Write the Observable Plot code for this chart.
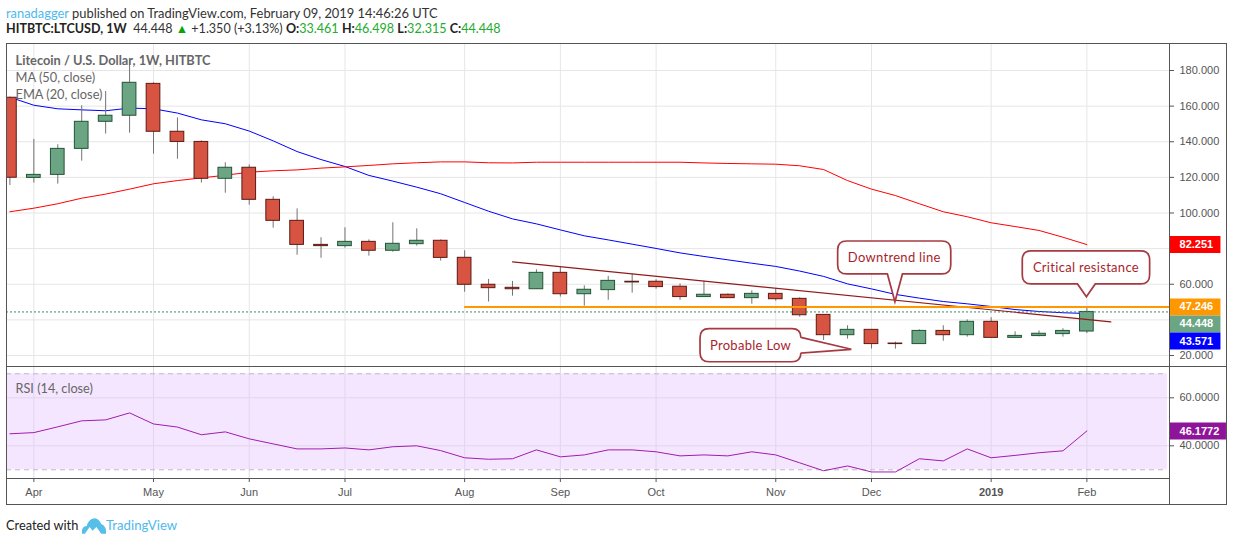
<!DOCTYPE html>
<html>
<head>
<meta charset="utf-8">
<script src="https://cdn.jsdelivr.net/npm/d3@7"></script>
<script src="https://cdn.jsdelivr.net/npm/@observablehq/plot@0.6"></script>
<style>
  html,body{margin:0;padding:0;background:#fff;}
  body{width:1234px;height:542px;position:relative;overflow:hidden;font-family:Lato,sans-serif;}
  .abs{position:absolute;white-space:nowrap;}
  #head1{left:6px;top:5px;font-size:12.9px;color:#333;line-height:16px;}
  #head1 .u{color:#4fb9ec;}
  #head2{left:6px;top:21px;font-size:12.55px;color:#333;line-height:16px;}
  #head2 b{color:#222;font-weight:700;}
  #head2 .g{color:#22ab2d;}
  #frameBox{left:6px;top:43px;width:1221px;height:462px;border:1px solid #555;box-sizing:border-box;}
  #sep{left:1169px;top:366px;width:58px;height:0;border-top:1px solid #555;}
  #sep2{left:1169px;top:478px;width:0;height:27px;border-left:1px solid #555;}
  #foot{left:6px;top:516px;font-size:12.8px;color:#222;line-height:18px;}
  #foot .t{color:#4fb9ec;position:absolute;left:100px;top:0;font-size:13.2px;}
</style>
</head>
<body>
<div class="abs" id="head1"><span class="u">ranadagger</span> published on TradingView.com, February 09, 2019 14:46:26 UTC</div>
<div class="abs" id="head2"><b>HITBTC:LTCUSD, 1W</b>&nbsp; 44.448 <span style="color:#0aa30a">▲</span> +1.350 (+3.13%) <b>O:</b><span class="g">33.461</span> <b>H:</b><span class="g">46.498</span> <b>L:</b><span class="g">32.315</span> <b>C:</b><span class="g">44.448</span></div>
<div class="abs" id="frameBox"></div>
<div class="abs" id="sep"></div>
<div class="abs" id="sep2"></div>
<div class="abs" id="foot">Created with
  <svg style="position:absolute;left:76px;top:1px" width="24" height="17" viewBox="0 0 25 17"><path d="M0 17 L0 13 C1 10 3 9 5 9 C6 4 10 1 13 1 C16 1 19 4 20 7 C23 8 25 11 25 14 L25 17 L20 17 L15 10 L11 14 L8 10 L3 17 Z" fill="#56bfe8"/></svg>
  <span class="t">TradingView</span></div>

<script>
// ---------- weekly bars ----------
const weeks = ["2018-03-26","2018-04-02","2018-04-09","2018-04-16","2018-04-23","2018-04-30","2018-05-07","2018-05-14","2018-05-21","2018-05-28","2018-06-04","2018-06-11","2018-06-18","2018-06-25","2018-07-02","2018-07-09","2018-07-16","2018-07-23","2018-07-30","2018-08-06","2018-08-13","2018-08-20","2018-08-27","2018-09-03","2018-09-10","2018-09-17","2018-09-24","2018-10-01","2018-10-08","2018-10-15","2018-10-22","2018-10-29","2018-11-05","2018-11-12","2018-11-19","2018-11-26","2018-12-03","2018-12-10","2018-12-17","2018-12-24","2018-12-31","2019-01-07","2019-01-14","2019-01-21","2019-01-28","2019-02-04"];
const openP  = [164.7,119.7,121.4,136.0,151.2,154.6,172.5,145.6,139.9,119.2,125.4,107.4,95.6,82.1,81.4,83.8,78.8,82.5,84.4,74.85,59.7,58.0,57.2,66.4,54.4,56.7,61.4,61.4,58.6,52.8,54.1,52.2,54.6,51.8,42.8,31.4,34.4,26.7,26.4,33.8,31.4,38.9,29.9,30.9,32.0,33.461];
const highP  = [164.7,141.3,138.3,160.2,168.2,185.6,173.1,153.4,140.5,128.2,127.0,109.1,102.3,86.1,91.7,84.9,94.5,91.1,84.9,78.8,62.7,61.6,68.1,69.6,59.1,64.4,65.9,62.5,60.2,61.7,54.6,56.3,57.4,52.4,42.8,36.7,34.4,27.5,34.4,36.7,40.0,41.2,33.3,33.8,35.0,46.498];
const lowP   = [115.4,116.8,116.2,129.1,144.3,144.8,133.0,130.2,116.8,111.1,104.4,91.5,76.3,74.6,80.3,75.8,78.0,81.4,73.0,55.5,50.0,53.3,57.2,52.8,47.7,51.0,55.0,57.2,51.0,52.8,52.2,48.8,50.5,41.5,28.4,29.2,23.6,23.6,26.4,28.0,30.3,29.9,29.9,30.5,30.3,32.315];
const closeP = [119.8,121.4,136.0,151.2,154.6,173.1,145.6,139.9,119.2,125.4,107.4,95.6,82.1,81.4,83.8,78.8,82.7,84.4,74.8,59.7,57.8,57.2,66.4,54.4,56.9,61.9,61.0,58.4,52.8,54.1,52.2,54.6,51.6,42.6,31.4,34.4,26.4,26.4,33.8,31.4,38.9,29.9,31.0,32.2,33.8,44.448];
// moving averages, one value per week
const maBlue = [165.0,160.5,158.5,157.9,157.4,158.9,158.5,156.1,152.3,150.1,146.0,140.5,134.5,130.0,126.1,121.1,117.9,114.5,110.8,105.9,101.0,96.7,93.9,90.5,87.2,84.9,82.5,80.1,77.6,75.6,73.7,71.8,70.0,67.4,64.4,60.2,57.4,54.3,52.2,50.3,49.0,47.5,45.8,44.7,44.0,43.571];
const maRed  = [100.7,102.7,105.2,108.3,110.6,113.4,116.4,118.2,119.7,121.2,122.9,123.7,124.2,125.2,125.9,126.7,127.6,128.2,128.7,128.7,128.2,128.1,128.5,128.5,128.5,128.5,128.5,128.5,128.5,128.1,127.8,127.6,127.4,126.5,124.4,118.2,113.4,109.8,105.2,100.7,97.9,94.5,92.4,90.2,86.4,82.251];
const rsi    = [45.0,45.5,47.9,50.4,50.8,53.7,49.1,47.8,44.6,45.8,42.9,40.8,38.7,38.7,39.1,38.3,39.6,40.0,38.0,35.0,34.4,34.6,38.3,35.4,36.2,38.3,38.3,37.5,35.8,36.2,35.8,37.5,36.2,32.9,29.6,31.6,29.1,29.1,34.6,33.7,38.7,35.0,36.0,37.1,37.9,46.1772];

// ---------- axes ----------
const monthTicks  = ["2018-04-02","2018-05-07","2018-06-04","2018-07-02","2018-08-06","2018-09-03","2018-10-01","2018-11-05","2018-12-03","2019-02-04"];
const monthLabels = ["Apr","May","Jun","Jul","Aug","Sep","Oct","Nov","Dec","Feb"];
const yearTick = "2019-01-07", yearLabel = "2019";
const priceGrid = [20,40,60,80,100,120,140,160,180];
const priceTicks = [20,60,100,120,140,160,180];
const rsiTicks = [40,60];
const rsiBand = [30,70];
const xDomain = ["2018-03-25T00:00Z","2019-02-28T04:00Z"];
const priceDomain = [13.82,195.16];
const rsiDomain = [26.375,73.04];

// ---------- overlays ----------
const trendDates = ["2018-08-20","2019-02-11"];
const trendPrices = [72.6,38.9];
const supportStart = "2018-08-06";
const lastClose = 44.448, resistance = 47.246;

const badgeText  = ["82.251","47.246","44.448","43.571"];
const badgePos   = [82.251,47.246,37.7,28.1];
const badgeColor = ["#ff0000","#ff9800","#6ba583","#0000ff"];

const calloutText  = ["Downtrend line","Critical resistance","Probable Low"];
const calloutLeft  = ["2018-11-23T06:00Z","2019-01-16T06:00Z","2018-10-14T00:00Z"];
const calloutRight = ["2018-12-26T08:00Z","2019-02-22T12:00Z","2018-11-12T12:00Z"];
const calloutTop   = [84.0,78.4,34.8];
const calloutBot   = [65.5,59.9,16.2];
const calloutTipX  = ["2018-12-10","2019-02-04","2018-11-27T06:00Z"];
const calloutTipY  = [49.9,52.7,23.2];
const tailHalfDays = [2.2,2.6];
const sideTail     = [29.9,21.1];

const D = s => new Date(s);
const day = 864e5;
const frameEnd = D(xDomain[1]);
const pastEnd = w => new Date(+frameEnd + w*7*day);
const FONT = "Liberation Sans, Arial, sans-serif";

const bars = weeks.map((w,i)=>({date:D(w),open:openP[i],high:highP[i],low:lowP[i],close:closeP[i],blue:maBlue[i],red:maRed[i],rsi:rsi[i]}));
const upFill="#6ba583",upEdge="#225437",dnFill="#d75442",dnEdge="#5b1a13";

const W=1234;
const xOpt={type:"utc",domain:xDomain.map(D),axis:null};

function calloutMark(index,{x,y}){
  const g=d3.create("svg:g");
  calloutText.forEach((txt,i)=>{
    const L=x(D(calloutLeft[i])),R=x(D(calloutRight[i])),T=y(calloutTop[i]),B=y(calloutBot[i]);
    const tip=D(calloutTipX[i]),tx=x(tip),ty=y(calloutTipY[i]),r=9;
    let p=`M${L+r},${T}H${R-r}Q${R},${T} ${R},${T+r}`;
    if(i===2) p+=`V${y(sideTail[0])}L${tx},${ty}L${R},${y(sideTail[1])}`;
    p+=`V${B-r}Q${R},${B} ${R-r},${B}`;
    if(i!==2){
      const a=x(new Date(+tip-tailHalfDays[i]*day)),b=x(new Date(+tip+tailHalfDays[i]*day));
      p+=`H${b}L${tx},${ty}L${a},${B}`;
    }
    p+=`H${L+r}Q${L},${B} ${L},${B-r}V${T+r}Q${L},${T} ${L+r},${T}Z`;
    g.append("path").attr("d",p).attr("fill","#fff").attr("stroke","#a63a42").attr("stroke-width",1.7);
    g.append("text").attr("x",(L+R)/2).attr("y",(T+B)/2).attr("dy","0.36em")
     .attr("text-anchor","middle").attr("fill","#a81f2c")
     .style("font","13px Lato,sans-serif").style("letter-spacing","0.3px").text(txt);
  });
  return g.node();
}

const main=Plot.plot({
  width:W,height:323,marginLeft:6,marginRight:65,marginTop:0,marginBottom:0,
  style:{fontFamily:FONT,fontSize:"11px",color:"#555",background:"none",overflow:"visible"},
  x:xOpt,y:{domain:priceDomain,axis:null},
  marks:[
    Plot.gridY(priceGrid,{stroke:"#e6e6e6",strokeOpacity:1}),
    Plot.gridX(monthTicks.concat(yearTick).map(D),{stroke:"#e6e6e6",strokeOpacity:1}),
    Plot.axisY({anchor:"right",label:null,ticks:priceTicks,tickFormat:".3f",tickSize:4,tickPadding:6,stroke:"#555",fill:"#555",fontSize:11}),
    Plot.line(bars,{x:"date",y:"blue",stroke:"#0000ff",strokeWidth:1,clip:true}),
    Plot.line(bars,{x:"date",y:"red",stroke:"#ff0000",strokeWidth:1,clip:true}),
    Plot.ruleX(bars,{x:"date",y1:"low",y2:"high",stroke:"#737375",strokeWidth:1,clip:true}),
    Plot.rect(bars,{
      x1:d=>new Date(+d.date-2*day),x2:d=>new Date(+d.date+2*day),
      y1:"open",y2:"close",
      fill:d=>d.close>=d.open?upFill:dnFill,
      stroke:d=>d.close>=d.open?upEdge:dnEdge,strokeWidth:1,clip:true}),
    Plot.ruleY([lastClose],{stroke:"#3f8a62",strokeDasharray:"2,2",strokeWidth:1}),
    Plot.line(trendDates.map((d,i)=>({d:D(d),p:trendPrices[i]})),{x:"d",y:"p",stroke:"#8f1b1b",strokeWidth:1.2}),
    Plot.ruleY([resistance],{x1:D(supportStart),x2:frameEnd,stroke:"#ff9800",strokeWidth:2}),
    calloutMark,
    Plot.ruleY(badgeText.map((t,i)=>i),{y:i=>badgePos[i],x1:pastEnd(0.04),x2:pastEnd(2.15),stroke:i=>badgeColor[i],strokeWidth:17}),
    Plot.text(badgeText.map((t,i)=>i),{y:i=>badgePos[i],x:pastEnd(0.42),text:i=>badgeText[i],fill:"#fff",fontWeight:"bold",fontSize:11,textAnchor:"start"}),
    Plot.frame({stroke:"#555"}),
    Plot.text(["Litecoin / U.S. Dollar, 1W, HITBTC"],{text:d=>d,frameAnchor:"top-left",dx:9,dy:17,lineAnchor:"middle",fontFamily:"Lato",fontSize:12.8,fontWeight:"bold",fill:"#666"}),
    Plot.text(["MA (50, close)"],{text:d=>d,frameAnchor:"top-left",dx:9,dy:34,lineAnchor:"middle",fontFamily:"Lato",fontSize:12.8,fill:"#666"}),
    Plot.text(["EMA (20, close)"],{text:d=>d,frameAnchor:"top-left",dx:9,dy:51,lineAnchor:"middle",fontFamily:"Lato",fontSize:12.8,fill:"#666"})
  ]
});
main.style.position="absolute";main.style.left="0";main.style.top="43px";
document.body.appendChild(main);

const lower=Plot.plot({
  width:W,height:139,marginLeft:6,marginRight:65,marginTop:0,marginBottom:27,
  style:{fontFamily:FONT,fontSize:"11px",color:"#555",background:"none",overflow:"visible"},
  x:xOpt,y:{domain:rsiDomain,axis:null},
  marks:[
    Plot.rectY([0],{x1:D(xDomain[0]),x2:new Date(+frameEnd-0.6*day),y1:rsiBand[0],y2:rsiBand[1],fill:"#f4e6fe"}),
    Plot.gridY(rsiTicks,{stroke:"#e3d5ee",strokeOpacity:1}),
    Plot.gridX(monthTicks.concat(yearTick).map(D),{stroke:"#e3d5ee",strokeOpacity:1}),
    Plot.ruleY(rsiBand,{x1:D(xDomain[0]),x2:new Date(+frameEnd-0.6*day),stroke:"#c3b5c6",strokeDasharray:"5,4",strokeWidth:1}),
    Plot.line(bars,{x:"date",y:"rsi",stroke:"#a01cae",strokeWidth:1,clip:true}),
    Plot.axisY({anchor:"right",label:null,ticks:rsiTicks,tickFormat:".4f",tickSize:4,tickPadding:6,stroke:"#555",fill:"#555",fontSize:11}),
    Plot.ruleY([rsi[rsi.length-1]],{x1:pastEnd(0.04),x2:pastEnd(2.38),stroke:"#8e1599",strokeWidth:17}),
    Plot.text([rsi[rsi.length-1]],{y:d=>d,x:pastEnd(0.42),text:d=>d.toFixed(4),fill:"#fff",fontWeight:"bold",fontSize:11,textAnchor:"start"}),
    Plot.axisX({anchor:"bottom",label:null,ticks:monthTicks.map(D),tickFormat:d=>monthLabels[monthTicks.indexOf(d.toISOString().slice(0,10))],tickSize:4,tickPadding:6,stroke:"#555",fill:"#555",fontSize:11}),
    Plot.axisX({anchor:"bottom",label:null,ticks:[D(yearTick)],tickFormat:()=>yearLabel,tickSize:4,tickPadding:6,stroke:"#555",fill:"#555",fontWeight:"bold",fontSize:11}),
    Plot.frame({stroke:"#555"}),
    Plot.text(["RSI (14, close)"],{text:d=>d,frameAnchor:"top-left",dx:9,dy:22,lineAnchor:"middle",fontFamily:"Lato",fontSize:12.7,fill:"#666"})
  ]
});
lower.style.position="absolute";lower.style.left="0";lower.style.top="366px";
document.body.appendChild(lower);
</script>
</body>
</html>
